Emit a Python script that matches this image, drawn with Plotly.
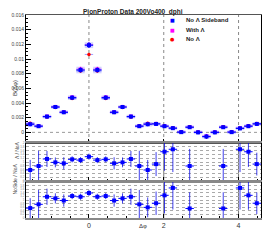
import numpy as np
import plotly.graph_objects as go

# ---------------- data ----------------
bin_index = list(range(-7, 21))            # bins of width pi/14
dphi = [k * np.pi / 14 for k in bin_index]
half_bin = np.pi / 28

sideband = [0.00111, 0.00084, 0.00215, 0.00346, 0.00274, 0.00473, 0.00850, 0.01189,
            0.00850, 0.00473, 0.00274, 0.00346, 0.00215, 0.00084, 0.00111, 0.00115,
            0.00084, 0.00057, 0.00003, 0.00070, 0.00000, -0.00057, 0.00000, 0.00070,
            0.00003, 0.00055, 0.00084, 0.00115]
with_lam = [0.00118, 0.00086, 0.00218, 0.00350, 0.00278, 0.00480, 0.00862, 0.01195,
            0.00862, 0.00480, 0.00278, 0.00350, 0.00218, 0.00086, 0.00118, 0.00118,
            0.00088, 0.00060, 0.00008, 0.00075, 0.00004, -0.00050, 0.00004, 0.00075,
            0.00008, 0.00058, 0.00088, 0.00118]
no_lam = [0.00125, 0.00088, 0.00210, 0.00340, 0.00270, 0.00460, 0.00835, 0.01062,
          0.00835, 0.00460, 0.00270, 0.00340, 0.00210, 0.00088, 0.00125, 0.00120,
          0.00086, 0.00060, 0.00005, 0.00072, 0.00002, -0.00060, 0.00002, 0.00072,
          0.00005, 0.00057, 0.00086, 0.00120]
stat_err = [0.00028, 0.00025, 0.00025, 0.00025, 0.00025, 0.00028, 0.00035, 0.00040,
            0.00035, 0.00028, 0.00025, 0.00025, 0.00025, 0.00025, 0.00028, 0.00025,
            0.00025, 0.00025, 0.00025, 0.00025, 0.00025, 0.00030, 0.00025, 0.00025,
            0.00025, 0.00025, 0.00025, 0.00025]
sys_err = [0.00030, 0.00025, 0.00025, 0.00025, 0.00025, 0.00030, 0.00045, 0.00040,
           0.00045, 0.00030, 0.00025, 0.00025, 0.00025, 0.00025, 0.00030, 0.00025,
           0.00025, 0.00025, 0.00025, 0.00025, 0.00025, 0.00025, 0.00025, 0.00025,
           0.00025, 0.00025, 0.00025, 0.00025]

ratio_lam = [0.58, 0.79, 1.16, 0.98, 0.93, 1.14, 1.10, 1.28,
             1.10, 1.14, 0.93, 0.98, 1.16, 0.79, 0.58, 0.89,
             1.54, 1.67, None, 0.79, None, None, None, 0.79,
             None, 1.67, 1.54, 0.89]
ratio_lam_err = [0.53, 0.80, 0.42, 0.26, 0.32, 0.16, 0.16, 0.16,
                 0.16, 0.16, 0.32, 0.26, 0.42, 0.80, 0.53, 0.63,
                 1.00, 1.20, 0, 0.90, 0, 0, 0, 0.90,
                 0, 1.20, 0.80, 0.60]
ratio_side = [0.55, 0.76, 1.18, 1.09, 0.97, 1.22, 1.18, 1.39,
              1.18, 1.22, 0.97, 1.09, 1.18, 0.76, 0.59, 0.82,
              1.26, 1.67, None, 0.53, None, None, None, 0.53,
              None, 1.67, 1.26, 0.82]
ratio_side_err = [0.55, 0.80, 0.45, 0.28, 0.34, 0.17, 0.17, 0.17,
                  0.17, 0.17, 0.34, 0.28, 0.45, 0.80, 0.55, 0.65,
                  1.00, 1.20, 0, 0.90, 0, 0, 0, 0.90,
                  0, 1.20, 0.80, 0.60]

x_range = [-np.pi / 2 - np.pi / 28, 3 * np.pi / 2 - np.pi / 28]
ref_lines = [0, 2, 4]

title = "PionProton Data 200Vo400_dphi"
legend_names = ["No \u039b Sideband", "With \u039b", "No \u039b"]
legend_symbols = ["\u25a0", "\u25a0", "\u25cf"]

# ---------------- figure ----------------
FONT = "Liberation Sans"
BLUE = "#0000ff"
MAG = "#ff00ff"
RED = "#ff0000"
legend_colors = [BLUE, MAG, RED]
fig = go.Figure()

base = [v - s for v, s in zip(sideband, sys_err)]
fig.add_trace(go.Bar(x=dphi, y=[2 * s for s in sys_err], base=base, width=2 * half_bin,
                     marker=dict(color="rgba(110,110,255,0.30)", line=dict(width=0)),
                     showlegend=False, hoverinfo="skip", xaxis="x", yaxis="y"))

fig.add_trace(go.Scatter(x=dphi, y=with_lam, mode="markers", name=legend_names[1],
                         marker=dict(symbol="square", size=3.5, color=MAG),
                         error_x=dict(type="constant", value=half_bin, color="rgba(255,0,255,0.5)", thickness=1, width=0),
                         error_y=dict(type="data", array=stat_err, color="rgba(255,0,255,0.5)", thickness=1, width=0),
                         xaxis="x", yaxis="y"))
fig.add_trace(go.Scatter(x=dphi, y=no_lam, mode="markers", name=legend_names[2],
                         marker=dict(symbol="circle", size=3.5, color=RED),
                         error_x=dict(type="constant", value=half_bin, color="rgba(120,120,255,0.7)", thickness=1, width=0),
                         xaxis="x", yaxis="y"))
fig.add_trace(go.Scatter(x=dphi, y=sideband, mode="markers", name=legend_names[0],
                         marker=dict(symbol="square", size=4, color=BLUE),
                         error_x=dict(type="constant", value=half_bin, color=BLUE, thickness=1.2, width=0),
                         error_y=dict(type="data", array=stat_err, color=BLUE, thickness=1.2, width=0),
                         xaxis="x", yaxis="y"))

for yv, ye, ax in [(ratio_lam, ratio_lam_err, "y2"), (ratio_side, ratio_side_err, "y3")]:
    fig.add_trace(go.Scatter(x=dphi, y=yv, mode="markers", showlegend=False,
                             marker=dict(symbol="square", size=4, color=BLUE),
                             error_x=dict(type="constant", value=half_bin, color=BLUE, thickness=1, width=0),
                             error_y=dict(type="data", array=ye, color="rgba(0,0,230,0.75)", thickness=1, width=0),
                             xaxis="x2" if ax == "y2" else "x3", yaxis=ax))

XD = [26 / 266, 261 / 266]
common_x = dict(range=x_range, domain=XD, ticks="inside", ticklen=4, tickcolor="black",
                dtick=2, tick0=0, minor=dict(dtick=0.5, ticklen=2, ticks="inside", tickcolor="black"),
                showgrid=False, zeroline=False, showline=True, mirror=True, automargin=False)

fig.update_layout(
    template="none",
    width=266, height=240, margin=dict(l=0, r=0, t=0, b=0, autoexpand=False),
    paper_bgcolor="white", plot_bgcolor="white",
    font=dict(family=FONT, size=6, color="#222"),
    barmode="overlay", showlegend=False,
    xaxis=dict(**common_x, showticklabels=False, linecolor="#555", linewidth=1, anchor="y"),
    yaxis=dict(domain=[1 - 143 / 240, 1 - 15 / 240], range=[-0.00145, 0.016], dtick=0.002,
               ticks="inside", ticklen=5, tickcolor="black", automargin=False,
               minor=dict(dtick=0.0005, ticklen=2, ticks="inside", tickcolor="black"),
               showgrid=False, zeroline=False, showline=True, linecolor="black", mirror=True,
               tickfont=dict(size=5, color="#444"), anchor="x"),
    xaxis2=dict(**common_x, showticklabels=False, linecolor="#888", linewidth=2, anchor="y2"),
    yaxis2=dict(domain=[1 - 181 / 240, 1 - 143 / 240], range=[0, 2], dtick=0.2, automargin=False,
                ticks="", showgrid=True, gridcolor="#aaa", griddash="dot", gridwidth=1,
                zeroline=False, showline=True, linecolor="black", mirror=True,
                tickfont=dict(size=3, color="#888"), anchor="x2"),
    xaxis3=dict(**common_x, showticklabels=True, linecolor="#888", linewidth=2, anchor="y3",
                tickfont=dict(size=7, color="#333")),
    yaxis3=dict(domain=[1 - 218 / 240, 1 - 182 / 240], range=[0, 2], dtick=0.2, automargin=False,
                ticks="", showgrid=True, gridcolor="#aaa", griddash="dot", gridwidth=1,
                zeroline=False, showline=True, linecolor="black", mirror=True,
                tickfont=dict(size=3, color="#888"), anchor="x3"),
)

# reference lines
for xv in ref_lines:
    fig.add_shape(type="line", xref="x", yref="y domain", x0=xv, x1=xv, y0=0, y1=1,
                  line=dict(color="#888", width=1, dash="dot"), layer="below")
for xv in ref_lines[1:]:
    for yr, xr in [("y2 domain", "x2"), ("y3 domain", "x3")]:
        fig.add_shape(type="line", xref=xr, yref=yr, x0=xv, x1=xv, y0=0, y1=1,
                      line=dict(color="#777", width=1), layer="below")
fig.add_shape(type="line", xref="x domain", yref="y", x0=0, x1=1, y0=0, y1=0,
              line=dict(color="#999", width=1, dash="dot"), layer="below")

# legend (text based)
for i, (nm, sym, col) in enumerate(zip(legend_names, legend_symbols, legend_colors)):
    yy = 1 - (20 + 9.7 * i) / 240
    fig.add_annotation(text=sym, x=172.5 / 266, y=yy, xref="paper", yref="paper", showarrow=False,
                       font=dict(size=5, color=col, family="DejaVu Sans"), xanchor="center", yanchor="middle")
    fig.add_annotation(text="<b>" + nm + "</b>", x=184 / 266, y=yy, xref="paper", yref="paper", showarrow=False,
                       font=dict(size=6, color="#222", family=FONT), xanchor="left", yanchor="middle")

# texts
fig.add_annotation(text="<b>" + title + "</b>", x=133 / 266, y=1 - 6 / 240, xref="paper", yref="paper",
                   showarrow=False, font=dict(size=6.5, color="#222", family=FONT))
fig.add_annotation(text="B(\u0394\u03c6)", x=10 / 266, y=1 - 78 / 240, xref="paper", yref="paper",
                   showarrow=False, textangle=-90, font=dict(size=6, color="#333", family=FONT))
fig.add_annotation(text="\u039b / No\u039b", x=12 / 266, y=1 - 161 / 240, xref="paper", yref="paper",
                   showarrow=False, textangle=-90, font=dict(size=5, color="#444", family=FONT))
fig.add_annotation(text="NoSide / No\u039b", x=9 / 266, y=1 - 197 / 240, xref="paper", yref="paper",
                   showarrow=False, textangle=-90, font=dict(size=5, color="#444", family=FONT))
fig.add_annotation(text="\u0394\u03c6", x=143 / 266, y=1 - 231 / 240, xref="paper", yref="paper",
                   showarrow=False, font=dict(size=6, color="#333", family=FONT))

fig.write_html("out.html", config={"displayModeBar": False},
               post_script="document.body.style.margin='0';")
